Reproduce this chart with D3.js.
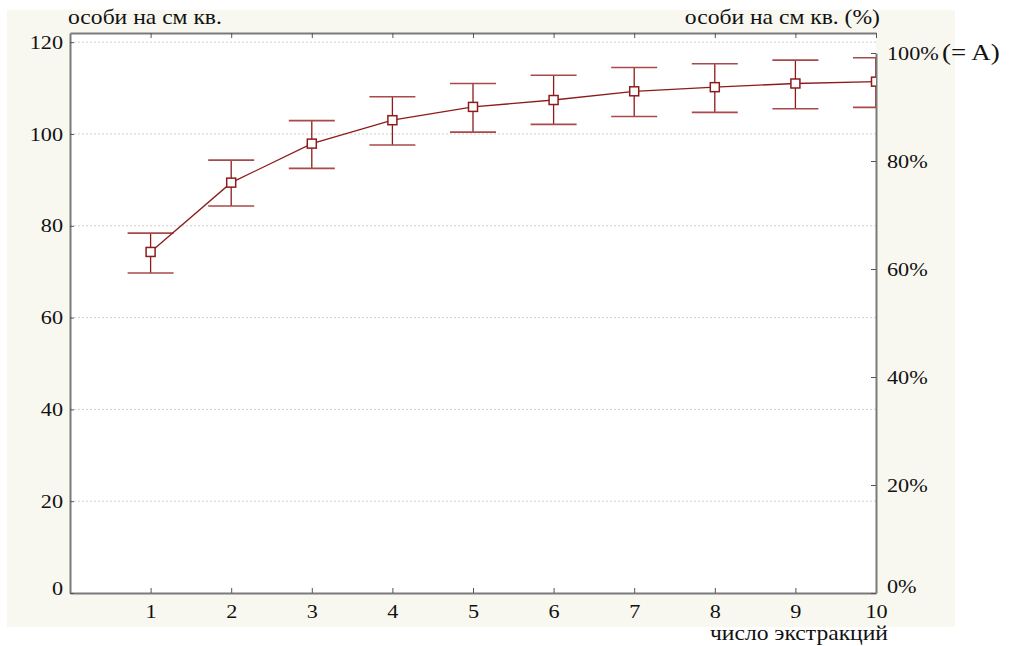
<!DOCTYPE html>
<html>
<head>
<meta charset="utf-8">
<script src="https://cdn.jsdelivr.net/npm/d3@7"></script>
<style>
  body { margin: 0; background: #fff; }
  text { font-family: "Liberation Serif", "Times New Roman", serif; fill: #111; }
</style>
</head>
<body>
<svg id="chart" width="1011" height="646"></svg>
<script>
// Data
let extractions = [1, 2, 3, 4, 5, 6, 7, 8, 9, 10]
let means = [74.3, 89.4, 97.9, 103.0, 105.9, 107.4, 109.3, 110.2, 111.0, 111.4]
let upper = [78.4, 94.3, 102.9, 108.1, 111.0, 112.8, 114.5, 115.3, 116.1, 116.6]
let lower = [69.7, 84.3, 92.5, 97.6, 100.4, 102.1, 103.8, 104.7, 105.5, 105.8]
let leftTicks = [0, 20, 40, 60, 80, 100, 120]
let rightTicks = [0, 0.2, 0.4, 0.6, 0.8, 1]
let leftTitle = "особи на см кв."
let rightTitle = "особи на см кв. (%)"
let xTitle = "число экстракций"

// Layout
let pLeft = 70, pRight = 876, pTop = 33, pBottom = 593
let svg = d3.select("#chart")

// the original picture is a little wider than tall, so text gets stretched too
let stretch = (sel, s) => {
  sel.each(function() {
    let t = d3.select(this)
    let x0 = +t.attr("x") || 0
    t.attr("transform", `translate(${x0},0) scale(${s},1) translate(${-x0},0)`)
  })
}

svg.append("rect")
  .attr("x", 7).attr("y", 10)
  .attr("width", 948).attr("height", 617)
  .attr("fill", "#f8f8f0")
svg.append("rect")
  .attr("x", pLeft).attr("y", pTop)
  .attr("width", pRight - pLeft).attr("height", pBottom - pTop)
  .attr("fill", "#ffffff")

let x = d3.scaleLinear().domain([0, 10]).range([pLeft, pRight])
let y = d3.scaleLinear().domain([0, 122]).range([pBottom, pTop])
let yPct = d3.scaleLinear().domain([0, 1]).range([pBottom, 53])

// Grid
svg.append("g").selectAll("line")
  .data(leftTicks.filter(d => d > 0))
  .join("line")
  .attr("x1", pLeft).attr("x2", pRight)
  .attr("y1", d => y(d)).attr("y2", d => y(d))
  .attr("stroke", "#cfcfcf")
  .attr("stroke-dasharray", "2,2")

// Axes
let styleAxis = g => {
  g.select(".domain").attr("stroke", "#7a7a7a").attr("stroke-width", 2)
  g.selectAll(".tick line").attr("stroke", "#555")
  g.selectAll(".tick text").attr("font-size", 19).attr("fill", "#111")
    .attr("font-family", "Liberation Serif, serif")
    .call(stretch, 1.17)
}

svg.append("g")
  .attr("transform", `translate(0,${pBottom})`)
  .call(d3.axisBottom(x).tickValues(extractions).tickSize(-5).tickPadding(12).tickSizeOuter(0))
  .call(styleAxis)

svg.append("g")
  .attr("transform", `translate(0,${pTop})`)
  .call(d3.axisTop(x).tickValues(extractions).tickSize(-5).tickFormat("").tickSizeOuter(0))
  .call(styleAxis)

svg.append("g")
  .attr("transform", `translate(${pLeft},0)`)
  .call(d3.axisLeft(y).tickValues(leftTicks).tickSize(-4).tickPadding(7).tickSizeOuter(0))
  .call(styleAxis)
  .selectAll(".tick text").filter(d => d === 0).attr("y", -5)

svg.append("g")
  .attr("transform", `translate(${pRight},0)`)
  .call(d3.axisRight(yPct).tickValues(rightTicks).tickSize(-5).tickPadding(11)
    .tickFormat(d => d3.format(".0%")(d)).tickSizeOuter(0))
  .call(styleAxis)
  .selectAll(".tick text").filter(d => d === 0).attr("y", -7)

svg.append("text")
  .attr("x", 942).attr("y", yPct(1) + 7)
  .attr("font-size", 23)
  .text("(= A)")
  .call(stretch, 1.17)

// Titles
svg.append("text").attr("x", 68).attr("y", 24).attr("font-size", 20).text(leftTitle)
  .call(stretch, 1.18)
svg.append("text").attr("x", 880).attr("y", 24).attr("font-size", 20)
  .attr("text-anchor", "end").text(rightTitle)
  .call(stretch, 1.18)
svg.append("text").attr("x", 888).attr("y", 640).attr("font-size", 20)
  .attr("text-anchor", "end").text(xTitle)
  .call(stretch, 1.18)

// Series
svg.append("clipPath").attr("id", "plot")
  .append("rect")
  .attr("x", pLeft).attr("y", pTop)
  .attr("width", pRight - pLeft).attr("height", pBottom - pTop)

let pts = extractions.map((e, i) => ({x: e, m: means[i], hi: upper[i], lo: lower[i]}))
let series = svg.append("g").attr("clip-path", "url(#plot)")
let errColor = "#a84a4a", lineColor = "#8e1b1b"

series.selectAll(".whisker")
  .data(pts).join("line")
  .attr("x1", d => x(d.x)).attr("x2", d => x(d.x))
  .attr("y1", d => y(d.hi)).attr("y2", d => y(d.lo))
  .attr("stroke", lineColor).attr("stroke-width", 1.3)

series.selectAll(".capHi")
  .data(pts).join("line")
  .attr("x1", d => x(d.x) - 23).attr("x2", d => x(d.x) + 23)
  .attr("y1", d => y(d.hi)).attr("y2", d => y(d.hi))
  .attr("stroke", errColor).attr("stroke-width", 1.6)

series.selectAll(".capLo")
  .data(pts).join("line")
  .attr("x1", d => x(d.x) - 23).attr("x2", d => x(d.x) + 23)
  .attr("y1", d => y(d.lo)).attr("y2", d => y(d.lo))
  .attr("stroke", errColor).attr("stroke-width", 1.6)

let line = d3.line().x(d => x(d.x)).y(d => y(d.m))
series.append("path")
  .attr("d", line(pts))
  .attr("fill", "none")
  .attr("stroke", lineColor)
  .attr("stroke-width", 1.3)

series.selectAll(".pt")
  .data(pts).join("rect")
  .attr("x", d => x(d.x) - 4.5).attr("y", d => y(d.m) - 4.5)
  .attr("width", 9).attr("height", 9)
  .attr("fill", "#fff")
  .attr("stroke", lineColor).attr("stroke-width", 1.5)
</script>
</body>
</html>
